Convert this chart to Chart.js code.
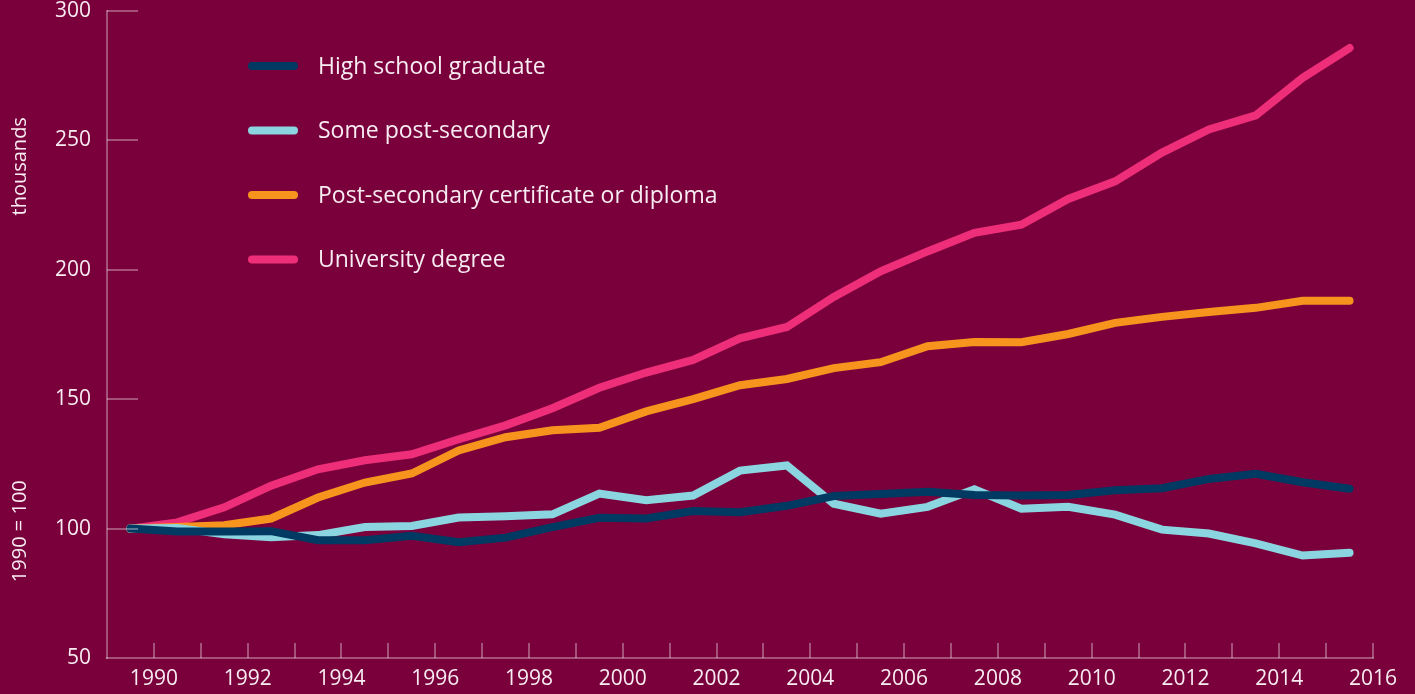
<!DOCTYPE html>
<html>
<head>
<meta charset="utf-8">
<script src="https://cdn.jsdelivr.net/npm/chart.js@4.4.1/dist/chart.umd.min.js"></script>
<style>
  html, body { margin: 0; padding: 0; background: #7a003c; }
  #wrap { position: relative; width: 1415px; height: 694px; }
  canvas { display: block; }
</style>
</head>
<body>
<div id="wrap"><canvas id="c" width="1415" height="694"></canvas></div>
<script>
// ---- data ----
const years = [1990,1991,1992,1993,1994,1995,1996,1997,1998,1999,2000,2001,2002,2003,2004,2005,2006,2007,2008,2009,2010,2011,2012,2013,2014,2015,2016];
const highSchool = [100,98.9,98.9,99.0,95.5,95.5,97.2,94.7,96.5,100.6,104.2,103.9,106.8,106.3,108.8,112.6,113.4,114.2,113.0,112.8,113.0,114.8,115.6,119.2,121.2,117.9,115.4];
const somePostSec = [100,100.2,97.8,96.7,97.5,100.6,101.0,104.3,104.8,105.5,113.5,111.0,112.8,122.4,124.4,109.6,105.8,108.4,115.2,107.7,108.4,105.4,99.6,98.1,94.3,89.6,90.7];
const certDiploma = [100,100.6,101.3,103.9,112.0,117.8,121.3,130.2,135.3,138.0,139.0,145.3,150.0,155.4,157.8,162.0,164.3,170.5,172.1,172.0,175.2,179.5,181.8,183.7,185.3,188.0,188.0];
const university = [100,102.4,108.2,116.6,122.9,126.4,128.7,134.5,139.9,146.5,154.4,160.3,165.2,173.5,177.9,189.5,199.4,207.1,214.3,217.4,227.4,234.2,245.3,254.2,259.7,274.2,285.7];
const seriesLabels = ["High school graduate","Some post-secondary","Post-secondary certificate or diploma","University degree"];
const seriesColors = ["#003a63","#8bd5e0","#f7941d","#ee2e79"];
const yTicks = [50,100,150,200,250,300];
const yTitles = ["thousands","1990 = 100"];

const allSeries = [highSchool, somePostSec, certDiploma, university];
const AXIS = "rgba(255,255,255,0.32)";
const TEXT = "#f7ecf1";
const FONT = "'Open Sans', 'Noto Sans', sans-serif";

const datasets = allSeries.map((vals, i) => ({
  label: seriesLabels[i],
  data: years.map((y, j) => ({ x: y - 0.5, y: vals[j] })),
  borderColor: seriesColors[i],
  backgroundColor: seriesColors[i],
  borderWidth: 8,
  borderCapStyle: 'round',
  borderJoinStyle: 'miter',
  pointRadius: 0,
  tension: 0,
  fill: false
}));

const innerTicks = {
  id: 'innerTicks',
  afterDraw(chart) {
    const ctx = chart.ctx;
    const xs = chart.scales.x, ys = chart.scales.y;
    ctx.save();
    ctx.strokeStyle = AXIS;
    ctx.lineWidth = 2;
    years.forEach(y => {
      const px = Math.round(xs.getPixelForValue(y));
      ctx.beginPath();
      ctx.moveTo(px, ys.bottom);
      ctx.lineTo(px, ys.bottom - 15);
      ctx.stroke();
    });
    yTicks.forEach(v => {
      if (v === yTicks[0]) return;
      const py = Math.round(ys.getPixelForValue(v));
      ctx.beginPath();
      ctx.moveTo(xs.left, py);
      ctx.lineTo(xs.left + 31, py);
      ctx.stroke();
    });
    ctx.fillStyle = TEXT;
    ctx.font = "20px " + FONT;
    ctx.textAlign = 'center';
    ctx.textBaseline = 'middle';
    const titlePos = [ys.getPixelForValue(240), ys.getPixelForValue(99)];
    yTitles.forEach((t, i) => {
      ctx.save();
      ctx.translate(20, titlePos[i]);
      ctx.rotate(-Math.PI / 2);
      ctx.fillText(t, 0, 0);
      ctx.restore();
    });
    const lx = 248, tx = 318, ly0 = 66, dy = 64.5;
    chart.data.datasets.forEach((ds, i) => {
      const yy = ly0 + i * dy;
      ctx.strokeStyle = ds.borderColor;
      ctx.lineWidth = 8;
      ctx.lineCap = 'round';
      ctx.beginPath();
      ctx.moveTo(lx + 4, yy);
      ctx.lineTo(lx + 50 - 4, yy);
      ctx.stroke();
      ctx.fillStyle = TEXT;
      ctx.font = "23px " + FONT;
      ctx.textAlign = 'left';
      ctx.textBaseline = 'middle';
      ctx.fillText(ds.label, tx, yy + 1);
    });
    ctx.restore();
  }
};

new Chart(document.getElementById('c'), {
  type: 'line',
  data: { datasets },
  options: {
    responsive: false,
    animation: false,
    layout: { padding: { top: 11, right: 42, left: 0, bottom: 0 } },
    plugins: { legend: { display: false }, tooltip: { enabled: false } },
    scales: {
      x: {
        type: 'linear',
        min: 1989, max: 2016,
        grid: { display: false, drawTicks: false },
        border: { display: true, color: AXIS, width: 2 },
        afterFit(s) { s.height = 36; s.paddingLeft = 0; s.paddingRight = 0; },
        afterBuildTicks(s) { s.ticks = years.filter(y => y % 2 === 0).map(v => ({ value: v })); },
        ticks: {
          color: TEXT,
          font: { size: 21, family: FONT },
          padding: 8,
          maxRotation: 0,
          autoSkip: false,
          callback: v => String(v)
        }
      },
      y: {
        min: 50, max: 300,
        grid: { display: false, drawTicks: false },
        border: { display: true, color: AXIS, width: 2 },
        afterFit(s) { s.width = 107; s.paddingTop = 0; s.paddingBottom = 0; },
        afterBuildTicks(s) { s.ticks = yTicks.map(v => ({ value: v })); },
        ticks: {
          color: TEXT,
          font: { size: 21, family: FONT },
          padding: 16
        }
      }
    }
  },
  plugins: [innerTicks]
});
</script>
</body>
</html>
